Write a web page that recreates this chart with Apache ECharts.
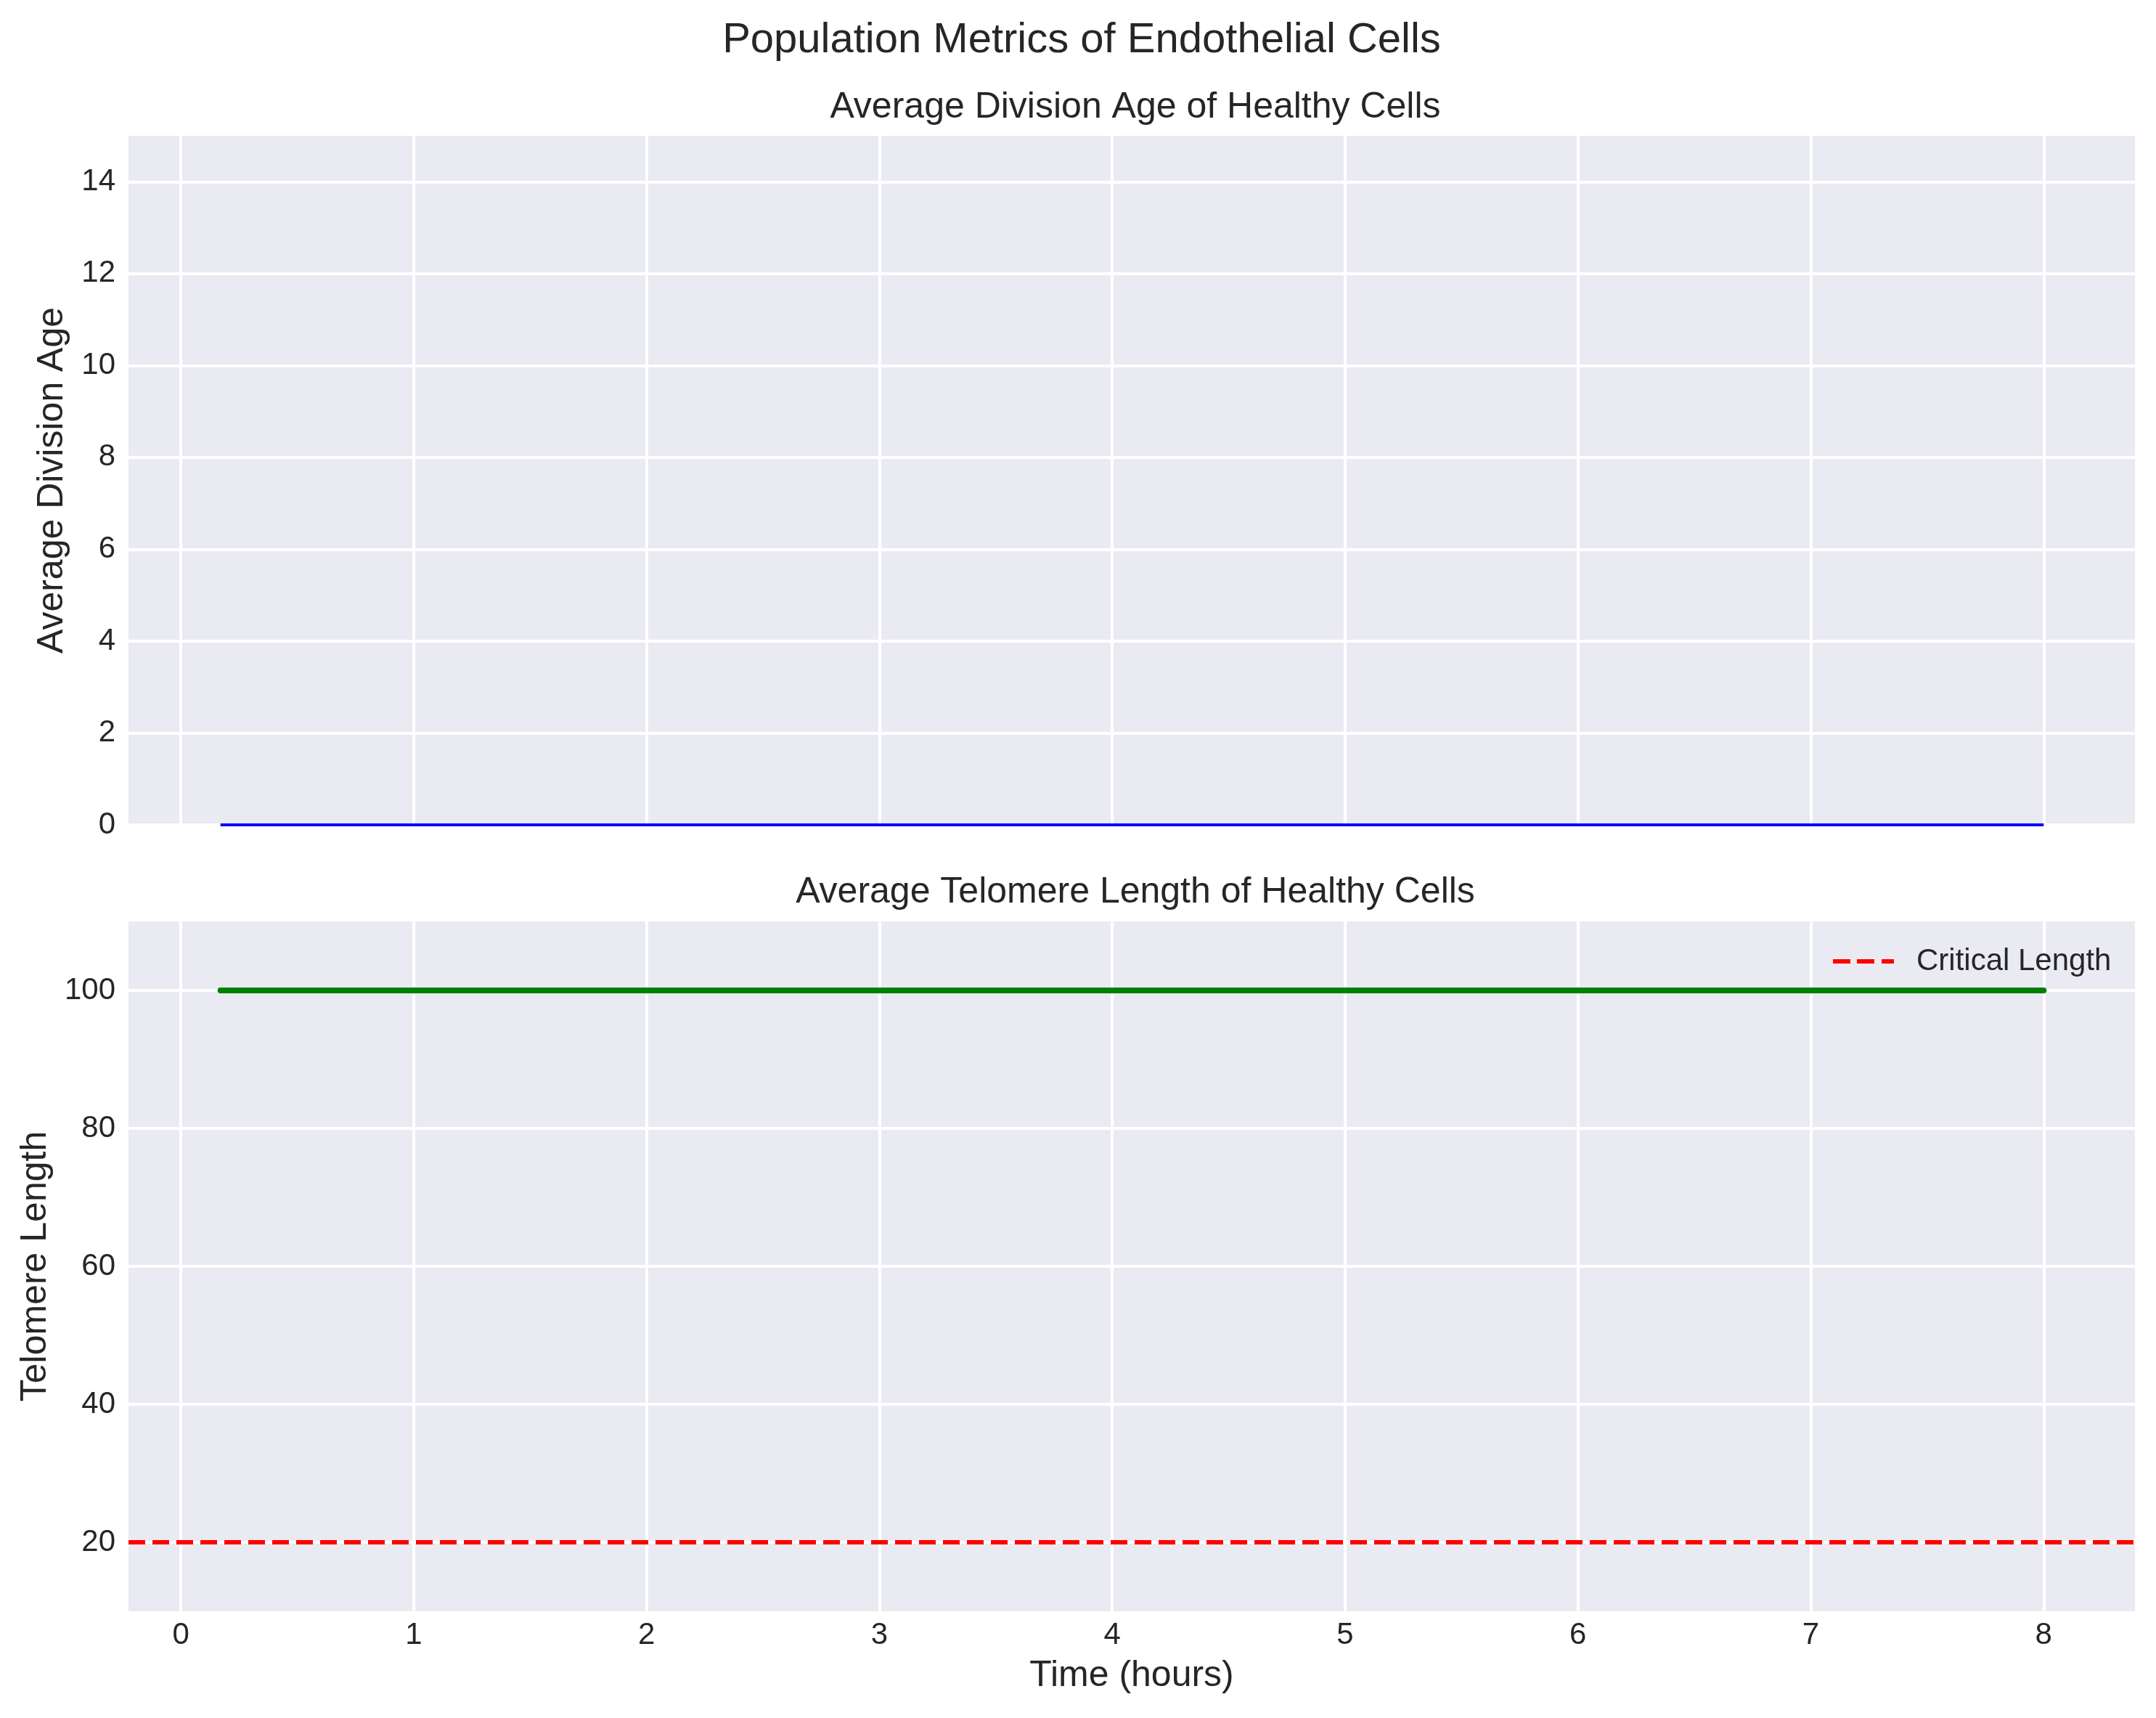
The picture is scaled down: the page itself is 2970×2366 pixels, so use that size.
<!DOCTYPE html>
<html>
<head>
<meta charset="utf-8">
<script src="https://cdn.jsdelivr.net/npm/echarts@6/dist/echarts.min.js"></script>
<style>
  html, body { margin: 0; padding: 0; background: #fff; }
  #chart { width: 2970px; height: 2366px; }
</style>
</head>
<body>
<div id="chart"></div>
<script>
// time points (hours) and the two measured series
var timeHours = [0.17, 1, 2, 3, 4, 5, 6, 7, 8];
var divisionAge = [0, 0, 0, 0, 0, 0, 0, 0, 0];
var telomereLength = [100, 100, 100, 100, 100, 100, 100, 100, 100];
var criticalLength = 20;

var xTicks = [0, 1, 2, 3, 4, 5, 6, 7, 8];
var ageTicks = [0, 2, 4, 6, 8, 10, 12, 14];
var telTicks = [20, 40, 60, 80, 100];

var FONT = "Liberation Sans, Arial, sans-serif";
var TXT = "#262626";

var chartDom = document.getElementById("chart");
var myChart = echarts.init(chartDom);

function pairs(xs, ys) {
  return xs.map(function (x, i) { return [x, ys[i]]; });
}

function tickFormatter(list) {
  return function (v) {
    for (var i = 0; i < list.length; i++) {
      if (Math.abs(list[i] - v) < 1e-6) return String(list[i]);
    }
    return "";
  };
}

// white grid lines, drawn as mark lines under the data
function gridLines(xi, yi, yList) {
  var d = xTicks.map(function (x) { return { xAxis: x }; })
    .concat(yList.map(function (y) { return { yAxis: y }; }));
  return {
    type: "line", data: [], xAxisIndex: xi, yAxisIndex: yi, z: 1,
    markLine: {
      silent: true, animation: false, z: 1,
      symbol: ["none", "none"],
      label: { show: false },
      lineStyle: { color: "#ffffff", width: 4, type: "solid" },
      emphasis: { disabled: true },
      data: d
    }
  };
}

var xAxisBase = {
  type: "value",
  min: -0.225,
  max: 8.392,
  interval: 0.025,
  axisLine: { show: false },
  axisTick: { show: false },
  splitLine: { show: false }
};

var option = {
  backgroundColor: "#ffffff",
  animation: false,
  title: [
    {
      text: "Population Metrics of Endothelial Cells",
      left: 1485, top: 22, textAlign: "center",
      textStyle: { fontFamily: FONT, fontSize: 58, fontWeight: "normal", color: TXT }
    },
    {
      text: "Average Division Age of Healthy Cells",
      left: 1559, top: 118, textAlign: "center",
      textStyle: { fontFamily: FONT, fontSize: 50, fontWeight: "normal", color: TXT }
    },
    {
      text: "Average Telomere Length of Healthy Cells",
      left: 1559, top: 1199, textAlign: "center",
      textStyle: { fontFamily: FONT, fontSize: 50, fontWeight: "normal", color: TXT }
    }
  ],
  legend: {
    left: 2520, top: 1298,
    itemWidth: 84, itemHeight: 6,
    data: [{
      name: "Critical Length",
      icon: "path://M0,0h24v6h-24z M33,0h24v6h-24z M67,0h17v6h-17z",
      itemStyle: { color: "#ff0000", borderWidth: 0 }
    }],
    textStyle: { fontFamily: FONT, fontSize: 42, color: TXT, padding: [0, 0, 0, 26] }
  },
  grid: [
    { left: 177, top: 187, width: 2764, height: 949, show: true, backgroundColor: "#EAEAF2", borderWidth: 0 },
    { left: 177, top: 1269, width: 2764, height: 950, show: true, backgroundColor: "#EAEAF2", borderWidth: 0 }
  ],
  xAxis: [
    Object.assign({}, xAxisBase, {
      gridIndex: 0,
      axisLabel: { show: false }
    }),
    Object.assign({}, xAxisBase, {
      gridIndex: 1,
      name: "Time (hours)",
      nameLocation: "middle",
      nameGap: 64,
      nameTextStyle: { fontFamily: FONT, fontSize: 50, color: TXT },
      axisLabel: { margin: 12, fontFamily: FONT, fontSize: 42, color: TXT, formatter: tickFormatter(xTicks) }
    })
  ],
  yAxis: [
    {
      type: "value", gridIndex: 0, min: 0, max: 15, interval: 1,
      name: "Average Division Age", nameLocation: "middle", nameGap: 80,
      nameTextStyle: { fontFamily: FONT, fontSize: 50, color: TXT },
      axisLine: { show: false }, axisTick: { show: false },
      axisLabel: { margin: 18, fontFamily: FONT, fontSize: 42, color: TXT, formatter: tickFormatter(ageTicks) },
      splitLine: { show: false }
    },
    {
      type: "value", gridIndex: 1, min: 10, max: 110, interval: 10,
      name: "Telomere Length", nameLocation: "middle", nameGap: 103,
      nameTextStyle: { fontFamily: FONT, fontSize: 50, color: TXT },
      axisLine: { show: false }, axisTick: { show: false },
      axisLabel: { margin: 18, fontFamily: FONT, fontSize: 42, color: TXT, formatter: tickFormatter(telTicks) },
      splitLine: { show: false }
    }
  ],
  series: [
    gridLines(0, 0, ageTicks),
    gridLines(1, 1, telTicks),
    {
      name: "Average Division Age",
      type: "line",
      xAxisIndex: 0, yAxisIndex: 0,
      data: pairs(timeHours, divisionAge),
      showSymbol: false,
      symbol: "none",
      clip: false,
      z: 6,
      lineStyle: { color: "#0000ff", width: 4 },
      itemStyle: { color: "#0000ff" }
    },
    {
      name: "Average Telomere Length",
      type: "line",
      xAxisIndex: 1, yAxisIndex: 1,
      data: pairs(timeHours, telomereLength),
      showSymbol: false,
      symbol: "none",
      z: 6,
      lineStyle: { color: "#008000", width: 8, cap: "round" },
      itemStyle: { color: "#008000" }
    },
    {
      name: "Critical Length",
      type: "line",
      xAxisIndex: 1, yAxisIndex: 1,
      data: [],
      symbol: "none",
      z: 6,
      lineStyle: { color: "#ff0000", width: 6, type: [23, 10] },
      itemStyle: { color: "#ff0000" },
      markLine: {
        silent: true, z: 6,
        symbol: ["none", "none"],
        label: { show: false },
        lineStyle: { color: "#ff0000", width: 6, type: [23, 10] },
        data: [{ yAxis: criticalLength }]
      }
    }
  ]
};

option && myChart.setOption(option);
</script>
</body>
</html>
